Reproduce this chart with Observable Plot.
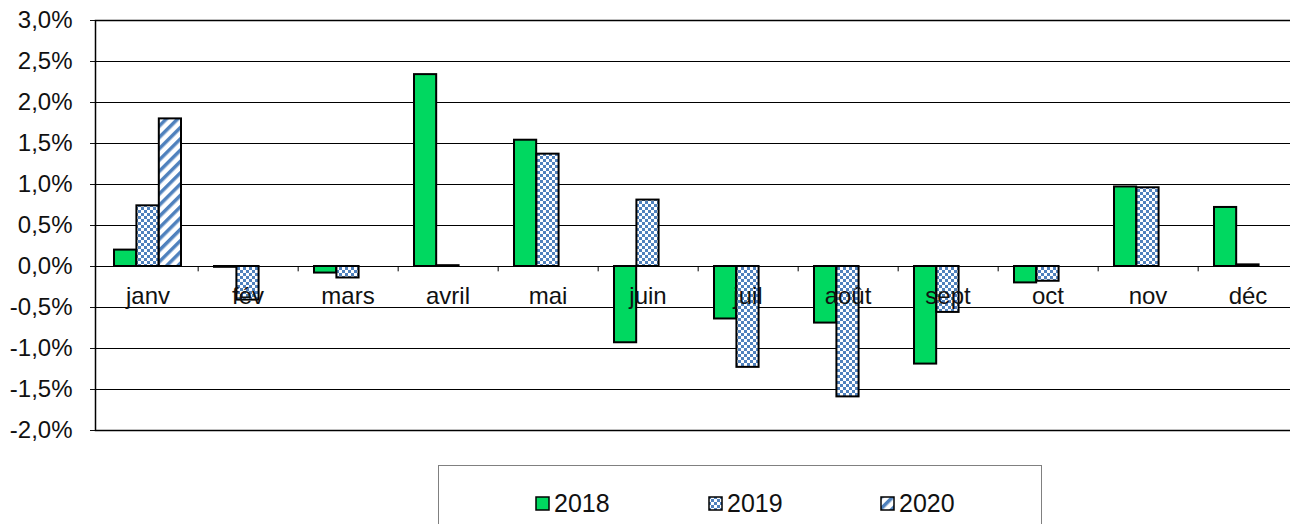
<!DOCTYPE html>
<html>
<head>
<meta charset="utf-8">
<script src="https://cdn.jsdelivr.net/npm/d3@7"></script>
<script src="https://cdn.jsdelivr.net/npm/@observablehq/plot@0.6"></script>
<style>
  html, body { margin: 0; padding: 0; overflow: hidden; background: #fff; }
  #wrap { position: relative; width: 1290px; height: 524px; overflow: hidden; font-family: "Liberation Sans", Arial, sans-serif; }
  #chart { width: 1300px; }
  #chart svg { max-width: none !important; }
  #legend { position: absolute; left: 438px; top: 465px; width: 604px; height: 80px; border: 1.5px solid #808080; box-sizing: border-box; }
  .item { position: absolute; top: 22px; height: 30px; display: flex; align-items: center; font-size: 25px; color: #111; }
  .item svg { margin-right: 4px; }
</style>
</head>
<body>
<div id="wrap">
  <div id="chart"></div>
  <div id="legend"></div>
</div>
<script>
const months = ["janv", "fév", "mars", "avril", "mai", "juin", "juil", "août", "sept", "oct", "nov", "déc"];
const years = ["2018", "2019", "2020"];
const v2018 = [0.20, -0.01, -0.08, 2.34, 1.54, -0.93, -0.64, -0.69, -1.19, -0.20, 0.97, 0.72];
const v2019 = [0.74, -0.41, -0.14, 0.01, 1.37, 0.81, -1.23, -1.59, -0.56, -0.18, 0.96, 0.02];
const v2020 = [1.80, null, null, null, null, null, null, null, null, null, null, null];
const yTicks = [-2, -1.5, -1, -0.5, 0, 0.5, 1, 1.5, 2, 2.5, 3];

const series = {"2018": v2018, "2019": v2019, "2020": v2020};
const rows = [];
for (const yr of years) {
  months.forEach((m, i) => {
    const v = series[yr][i];
    if (v != null) rows.push({month: m, year: yr, value: v});
  });
}

const W = 1300, ML = 95, MR = 1;
const step = (W - ML - MR) / months.length;
const pad = 0.33;
const third = step * (1 - pad) / 3;
const fills = {"2018": "#00d860", "2019": "url(#chk)", "2020": "url(#dia)"};
const fmt = d => d.toFixed(1).replace(".", ",") + "%";

const barMark = (yr, k) => Plot.barY(rows.filter(r => r.year === yr), {
  x: "month", y: "value",
  fill: fills[yr], stroke: "#000", strokeWidth: 2,
  insetLeft: k * third, insetRight: (2 - k) * third
});

const plot = Plot.plot({
  width: W, height: 456,
  marginLeft: ML, marginRight: MR, marginTop: 20, marginBottom: 26,
  style: {fontFamily: "'Liberation Sans', Arial, sans-serif", fontSize: "24px", color: "#111", background: "#fff", maxWidth: "none"},
  x: {type: "band", domain: months, paddingInner: pad, paddingOuter: pad / 2, axis: null},
  y: {domain: [-2, 3], ticks: yTicks, tickFormat: fmt, tickSize: 5, tickPadding: 18, label: null},
  marks: [
    Plot.ruleY(yTicks, {stroke: "#000", strokeWidth: 1}),
    Plot.frame({stroke: "#000", strokeWidth: 1.5}),
    barMark("2018", 0),
    barMark("2019", 1),
    barMark("2020", 2),
    Plot.ruleX(months, {x: d => d, dx: step / 2, y1: 0, y2: -0.065, stroke: "#000", strokeWidth: 1}),
    Plot.text(months, {x: d => d, y: d => 0, dy: 30, text: d => d, fontSize: 24, fill: "#111"})
  ]
});

const defs = `
<pattern id="chk" width="6" height="6" patternUnits="userSpaceOnUse">
  <rect width="6" height="6" fill="#fff"/>
  <rect width="3" height="3" fill="#4f81bd"/>
  <rect x="3" y="3" width="3" height="3" fill="#4f81bd"/>
</pattern>
<pattern id="dia" width="8" height="8" patternUnits="userSpaceOnUse" patternTransform="rotate(45)">
  <rect width="8" height="8" fill="#fff"/>
  <rect width="3.5" height="8" fill="#4f81bd"/>
</pattern>`;
const d = document.createElementNS("http://www.w3.org/2000/svg", "defs");
d.innerHTML = defs;
plot.insertBefore(d, plot.firstChild);
document.getElementById("chart").appendChild(plot);

// legend
const legend = document.getElementById("legend");
const lx = {"2018": 96, "2019": 269, "2020": 441};
for (const yr of years) {
  const it = document.createElement("div");
  it.className = "item";
  it.style.left = lx[yr] + "px";
  it.innerHTML = `<svg width="15" height="15"><rect x="1" y="1" width="13" height="13" fill="${fills[yr]}" stroke="#000" stroke-width="1.5"/></svg><span>${yr}</span>`;
  legend.appendChild(it);
}
</script>
</body>
</html>
